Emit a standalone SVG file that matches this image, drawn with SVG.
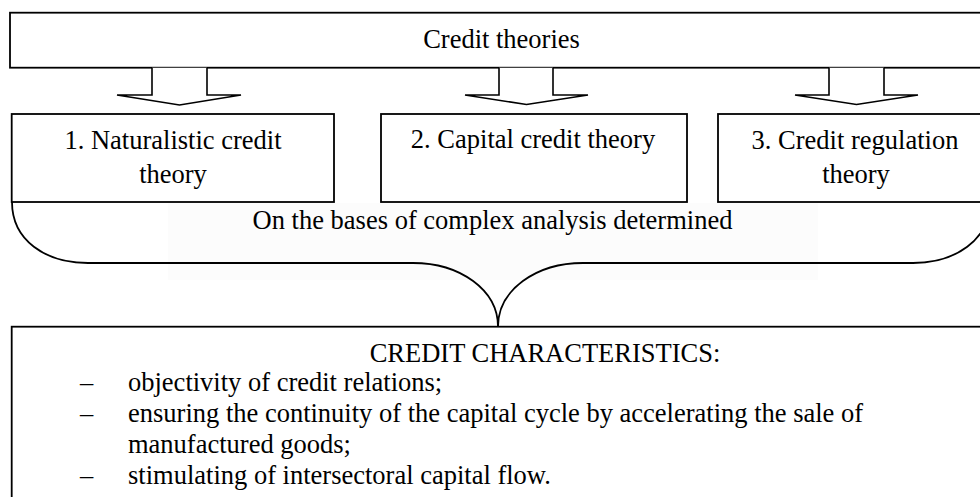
<svg xmlns="http://www.w3.org/2000/svg" width="980" height="497" viewBox="0 0 980 497">
<style>
.box{fill:#fff;stroke:#000;stroke-width:1.8}
.arr{fill:#fff;stroke:#000;stroke-width:1.6;stroke-linejoin:miter}
.brace{fill:none;stroke:#000;stroke-width:1.8}
text{font-family:"Liberation Serif","Times New Roman",serif;font-size:26.5px;fill:#000}
.c{text-anchor:middle}
</style>
<rect width="980" height="497" fill="#fff"/>
<g id="top">
<rect class="box" x="10" y="12.7" width="980" height="55"/>
<text class="c" x="501.5" y="48">Credit theories</text>
</g>
<g id="connectors">
<path class="arr" d="M152,67.7 V95 H117 L179.5,105 L241,95 H207 V67.7"/>
<path class="arr" d="M499,67.7 V95 H465 L526.5,104.5 L588,95 H553 V67.7"/>
<path class="arr" d="M829,67.7 V95 H795 L856.5,104.5 L918,95 H884 V67.7"/>
<rect x="168" y="203" width="650" height="77" fill="#fcfcfc"/>
<path class="brace" d="M12,202 C12,240 45,263 88,263 H413 C460,263 498,290 498,326.7 C498,290 536,263 583,263 H913 C955,263 990,240 990,202"/>
</g>
<g id="n1">
<rect class="box" x="11.7" y="114" width="322.3" height="88"/>
<text class="c" x="173" y="149">1. Naturalistic credit</text>
<text class="c" x="173" y="183">theory</text>
</g>
<g id="n2">
<rect class="box" x="381" y="114" width="306" height="88"/>
<text class="c" x="533" y="148">2. Capital credit theory</text>
</g>
<g id="n3">
<rect class="box" x="718" y="114" width="272" height="88"/>
<text class="c" x="855" y="149">3. Credit regulation</text>
<text class="c" x="856" y="183">theory</text>
</g>
<g id="label">
<text class="c" x="492.5" y="229">On the bases of complex analysis determined</text>
</g>
<g id="characteristics">
<rect class="box" x="11.7" y="326.7" width="980" height="200"/>
<text class="c" x="545" y="362">CREDIT CHARACTERISTICS:</text>
<text x="80" y="391">–</text>
<text x="128" y="391">objectivity of credit relations;</text>
<text x="80" y="422">–</text>
<text x="128" y="422">ensuring the continuity of the capital cycle by accelerating the sale of</text>
<text x="128" y="453">manufactured goods;</text>
<text x="80" y="484">–</text>
<text x="128" y="484">stimulating of intersectoral capital flow.</text>
</g>
</svg>
